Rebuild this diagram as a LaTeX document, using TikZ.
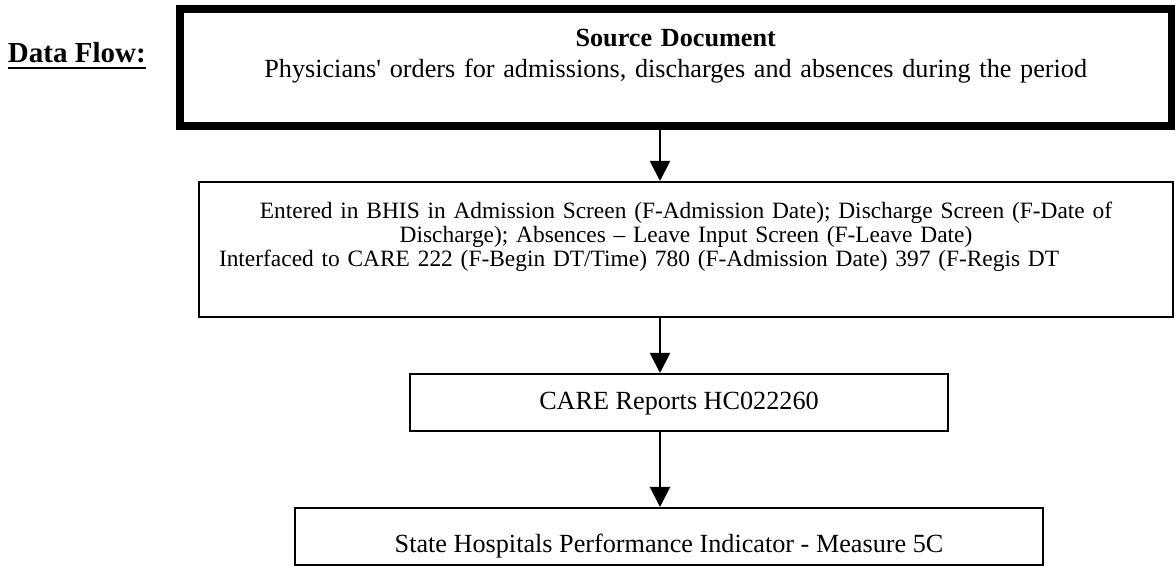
\documentclass[tikz,border=0pt]{standalone}
\usepackage{fontspec}
\setmainfont{Liberation Serif}
\newcommand{\flowul}[1]{\setbox0\hbox{#1}\rlap{\vrule height -2pt depth 3.1pt width \wd0}\box0}
\usetikzlibrary{arrows.meta}

\begin{document}
\begin{tikzpicture}[x=0.5pt, y=-0.5pt,
  every node/.style={draw, line width=1pt, inner sep=0pt, font=\fontsize{13.1}{15.5}\selectfont},
  every path/.style={line width=1pt},
]
\tikzset{>={Triangle[length=10pt, width=10pt]}}
\useasboundingbox (0,0) rectangle (1175,566);
\coordinate (X) at (660,0);

\node[draw=none, anchor=base west, font=\fontsize{14.5}{17}\selectfont\bfseries] (T) at (7,63) {\flowul{Data Flow:}};
\node[line width=4pt, text width=495.75pt, text height=19pt, text depth=39.5pt, align=center] (S) at (675.75,67.5)
  {\textbf{Source Document}\\Physicians\textquotesingle{} orders for admissions, discharges and absences during the period};
\node[text width=487pt, text height=18.5pt, text depth=49pt, font=\fontsize{11.7}{11.9}\selectfont] (E) at (686,249.5)
  {{\centering Entered in BHIS in Admission Screen (F-Admission Date); Discharge Screen (F-Date of\\
   Discharge); Absences – Leave Input Screen (F-Leave Date)\par}\hspace*{10pt}Interfaced to CARE 222 (F-Begin DT/Time) 780 (F-Admission Date) 397 (F-Regis DT};
\node[minimum width=269pt, text height=18pt, text depth=10.5pt] (C) at (679,402.5) {CARE Reports HC022260};
\node[minimum width=374pt, text height=22.5pt, text depth=6pt] (P) at (669,536.5) {State Hospitals Performance Indicator - Measure 5C};

\draw[->] (S.south -| X) -- (E.north -| X);
\draw[->] (E.south -| X) -- (C.north -| X);
\draw[->] (C.south -| X) -- (P.north -| X);
\end{tikzpicture}
\end{document}
